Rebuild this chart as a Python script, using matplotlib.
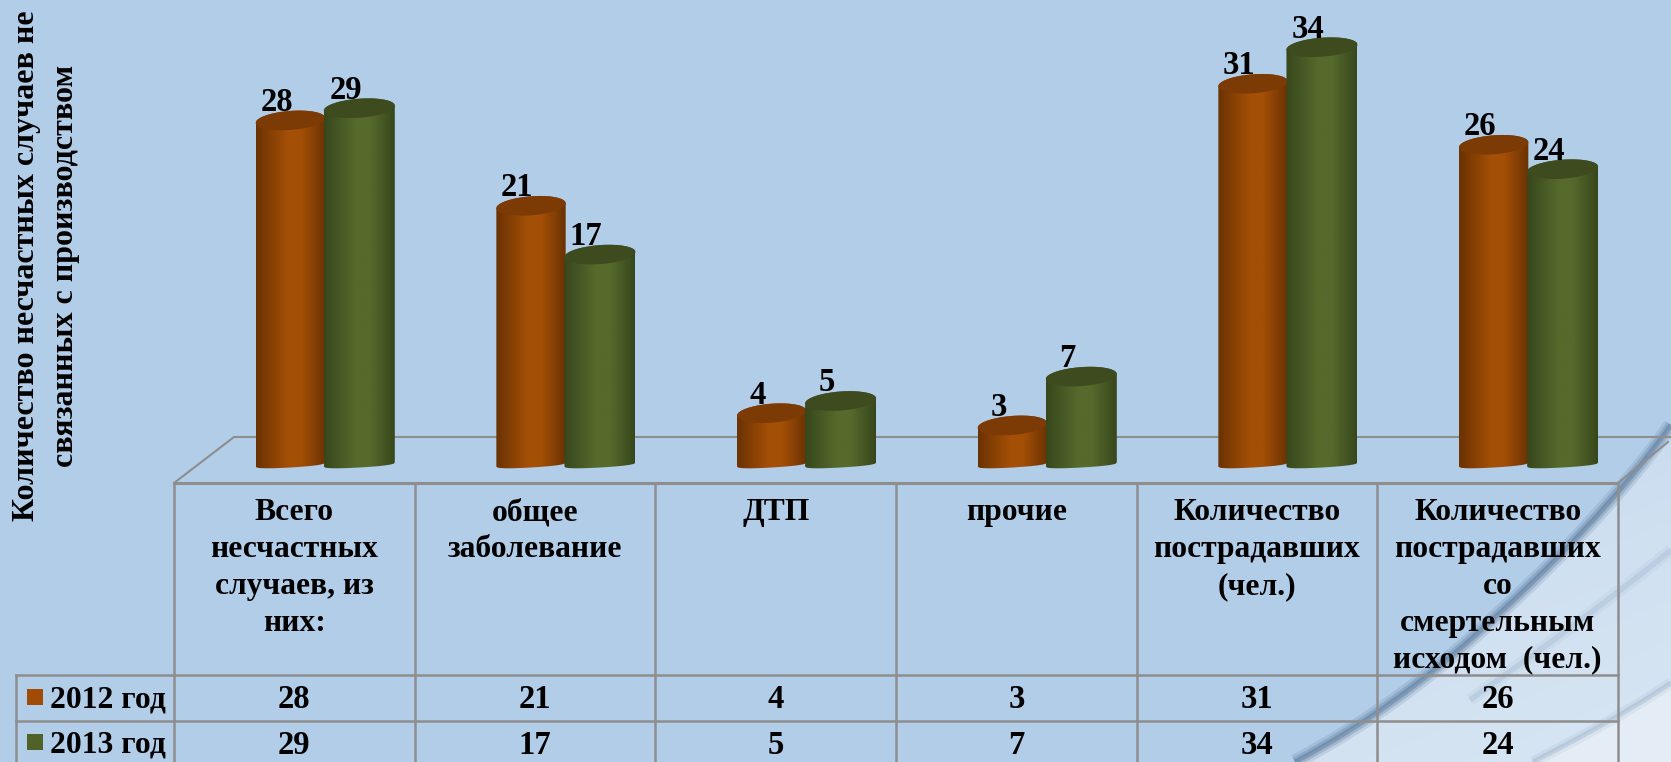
import numpy as np
import matplotlib
matplotlib.use("Agg")
import matplotlib.pyplot as plt
from matplotlib.path import Path
from matplotlib.patches import PathPatch, Polygon, Rectangle

plt.rcParams['font.family'] = ['Liberation Serif', 'DejaVu Serif']
plt.rcParams['font.weight'] = 'bold'

categories = ["Всего\nнесчастных\nслучаев, из\nних:", "общее\nзаболевание", "ДТП", "прочие",
              "Количество\nпострадавших\n(чел.)", "Количество\nпострадавших\nсо\nсмертельным\nисходом  (чел.)"]
series_names = ["2012 год", "2013 год"]
values_2012 = [28, 21, 4, 3, 31, 26]
values_2013 = [29, 17, 5, 7, 34, 24]
y_title = "Количество несчастных случаев не\nсвязанных с производством"

W, H = 1671, 762
BG = "#b2cde8"
LINE = "#8e8e8e"
fig = plt.figure(figsize=(W / 100, H / 100), dpi=100, facecolor=BG)

# pixel axes for background and table
ax = fig.add_axes([0, 0, 1, 1], zorder=0)
ax.set_xlim(0, W)
ax.set_ylim(H, 0)
ax.axis("off")

# background swoosh, corner of the slide
C4 = [Path.MOVETO] + [Path.CURVE4] * 6
main_edge = [(1671, 425), (1625, 490), (1555, 565), (1470, 640), (1425, 680), (1365, 725), (1295, 762)]
fill_path = Path(main_edge + [(1671, 762), (1671, 425)], C4 + [Path.LINETO, Path.CLOSEPOLY])
patch = PathPatch(fill_path, fc="none", ec="none")
ax.add_patch(patch)
grad = np.linspace(0, 1, 256)[:, None] * 0.7 + np.linspace(0, 1, 256)[None, :] * 0.3
cmap = matplotlib.colors.LinearSegmentedColormap.from_list("bgc", ["#c0d6ec", "#cfe0f1", "#d8e6f3"])
im = ax.imshow(grad, extent=(1300, 1671, 762, 425), cmap=cmap, aspect="auto", zorder=0.5)
im.set_clip_path(patch)

corner_edge = [(1671, 683), (1620, 717), (1575, 740), (1533, 762)]
corner = PathPatch(Path(corner_edge + [(1671, 762), (1671, 683)],
                        [Path.MOVETO, Path.CURVE4, Path.CURVE4, Path.CURVE4, Path.LINETO, Path.CLOSEPOLY]),
                   fc="#e4edf6", ec="none", zorder=0.55)
ax.add_patch(corner)

for lw, a in [(11, 0.14), (7, 0.22), (3.5, 0.32)]:
    ax.add_patch(PathPatch(Path(main_edge, C4), fc="none", ec="#3f5f84", lw=lw, alpha=a, zorder=0.6))
for lw, a in [(8, 0.08), (3.5, 0.16)]:
    ax.add_patch(PathPatch(Path(corner_edge, C4[:4]), fc="none", ec="#4f7196", lw=lw, alpha=a, zorder=0.6))
mid_edge = [(1671, 550), (1610, 600), (1540, 650), (1470, 700)]
for lw, a in [(9, 0.06), (4, 0.12)]:
    ax.add_patch(PathPatch(Path(mid_edge, C4[:4]), fc="none", ec="#55779b", lw=lw, alpha=a, zorder=0.6))
ax.set_xlim(0, W)
ax.set_ylim(H, 0)

# floor and table grid
col_edges = np.linspace(174, 1618, len(categories) + 1)
row_top, row_a, row_b, row_c = 483, 675, 721, 767
ax.plot([174, 234, W + 10], [483, 437, 437], color=LINE, lw=1.5, zorder=1)
ax.plot([1618, 1668], [483, 442], color=LINE, lw=1.5, zorder=1)
for xe in col_edges:
    ax.plot([xe, xe], [row_top, row_c], color=LINE, lw=1.8, zorder=1)
ax.plot([174, 1618], [row_top, row_top], color=LINE, lw=2.2, zorder=1)
for yy in (row_a, row_b, row_c):
    ax.plot([16, 1618], [yy, yy], color=LINE, lw=1.8, zorder=1)
ax.plot([16, 16], [row_a, row_c], color=LINE, lw=1.8, zorder=1)

FS = 23.5
FS_CAT = 22.7
centers = (col_edges[:-1] + col_edges[1:]) / 2
for cx, cat in zip(centers, categories):
    ax.text(cx, 498, cat, ha="center", va="top", fontsize=FS_CAT, linespacing=1.36, zorder=3)
colors = ["#a04c06", "#4f6228"]
for yc, name, vals, col in zip((700, 745), series_names, (values_2012, values_2013), colors):
    ax.add_patch(Rectangle((27, yc - 11), 16, 16, fc=col, ec="none", zorder=3))
    ax.text(50, yc, name, ha="left", va="center", fontsize=FS_CAT, zorder=3)
    for cx, v in zip(centers, vals):
        ax.text(cx, yc, str(v), ha="center", va="center", fontsize=FS, zorder=3)
ax.text(46, 266, y_title, rotation=90, ha="center", va="center", fontsize=23,
        multialignment="center", linespacing=1.42, zorder=3)

# bars in data coordinates, y=0 sits at Y0_PX, axes run a bit lower for the rounded bases
PX_PER_UNIT = 12.2
Y0_PX = 462
AX_BOTTOM_PX = 480
STEP = col_edges[1] - col_edges[0]
X0_PX = 325
bar_ax = fig.add_axes([0, (H - AX_BOTTOM_PX) / H, 1, AX_BOTTOM_PX / H], zorder=2)
bar_ax.patch.set_alpha(0)
bar_ax.axis("off")
xlim = (-X0_PX / STEP, (W - X0_PX) / STEP)
ylim = (-(AX_BOTTOM_PX - Y0_PX) / PX_PER_UNIT, Y0_PX / PX_PER_UNIT)
bar_ax.set_xlim(*xlim)
bar_ax.set_ylim(*ylim)
bar_ax.set_autoscale_on(False)

BAR_W = 0.288
TOP_B = 9.5 / PX_PER_UNIT
TILT = 2.5 / PX_PER_UNIT
BOT_C = -1.5 / PX_PER_UNIT
BOT_B = 4 / PX_PER_UNIT
BOT_TILT = 2 / PX_PER_UNIT


def cylinder(rect, c_edge, c_mid, c_cap):
    x0, w, v = rect.get_x(), rect.get_width(), rect.get_height()
    xm = x0 + w / 2
    rect.set_visible(False)
    t = np.linspace(0, 2 * np.pi, 80)
    ex = xm - w / 2 * np.cos(t)
    cap_y = v - TOP_B * np.sin(t) - TILT * np.cos(t)
    # outline: upper half of the cap, then the flat rounded base
    t_up = np.linspace(0, np.pi, 50)
    top_x = xm - w / 2 * np.cos(t_up)
    top_y = v + TOP_B * np.sin(t_up) - TILT * np.cos(t_up)
    bot_x = xm + w / 2 * np.cos(t_up)
    bot_y = BOT_C - BOT_B * np.sin(t_up) ** 0.5 + BOT_TILT * np.cos(t_up)
    sil = Polygon(np.column_stack([np.r_[top_x, bot_x], np.r_[top_y, bot_y]]), closed=True,
                  fc="none", ec="none", transform=bar_ax.transData)
    bar_ax.add_patch(sil)
    cm = matplotlib.colors.LinearSegmentedColormap.from_list(
        "c", [(0, c_edge), (0.45, c_mid), (0.65, c_mid), (1, c_edge)])
    im = bar_ax.imshow(np.linspace(0, 1, 128)[None, :], extent=(x0, x0 + w, ylim[0], v + 2), cmap=cm,
                       aspect="auto", zorder=rect.get_zorder())
    im.set_clip_path(sil)
    bar_ax.fill(ex, cap_y, color=c_cap, zorder=rect.get_zorder() + 0.01, lw=0)


x = np.arange(len(categories))
bars_a = bar_ax.bar(x - BAR_W / 2, values_2012, BAR_W, zorder=2)
bars_b = bar_ax.bar(x + 0.1425, values_2013, 0.295, zorder=2.5)
for r in bars_a:
    cylinder(r, "#6a3203", "#a44f06", "#7c3a05")
for r in bars_b:
    cylinder(r, "#37471c", "#566a2c", "#3d4b1f")
bar_ax.set_xlim(*xlim)
bar_ax.set_ylim(*ylim)

for bars, vals in ((bars_a, values_2012), (bars_b, values_2013)):
    for r, v in zip(bars, vals):
        bar_ax.annotate(str(v), (r.get_x() + r.get_width() / 2, v), xytext=(-10, 13),
                        textcoords="offset points", ha="center", va="center",
                        fontsize=FS, zorder=5, annotation_clip=False)

fig.savefig("out.png", dpi=100, facecolor=BG)
